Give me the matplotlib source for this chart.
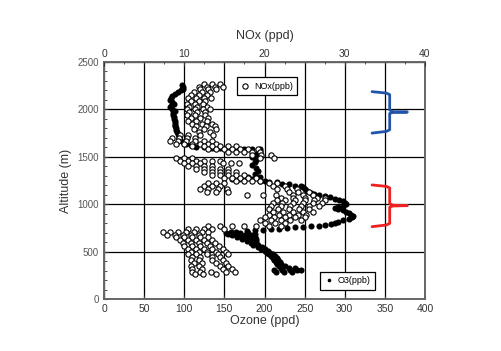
import matplotlib
matplotlib.use("Agg")
import matplotlib.pyplot as plt

plt.rcParams['font.family'] = ['Liberation Sans', 'DejaVu Sans']

# NOx profile (ppb), rows of readings per altitude level (m)
nox_levels = [2270, 2240, 2210, 2180, 2150, 2120, 2090, 2060, 2030, 2000,
              1970, 1940, 1910, 1880, 1850, 1820, 1790, 1760, 1730, 1700,
              1670, 1640, 1610, 1580, 1550, 1520, 1490, 1460, 1430, 1400,
              1370, 1340, 1310, 1280, 1250, 1220, 1190, 1160, 1130, 1100,
              1070, 1040, 1010, 980, 950, 920, 890, 860, 830, 800,
              770, 740, 710, 680, 650, 620, 590, 560, 530, 500,
              470, 440, 410, 380, 350, 320, 290, 260]
nox_values = [
    [12.5, 13.5, 14.5], [11.8, 12.8, 13.8, 14.8], [12.0, 13.0, 14.0],
    [11.2, 12.2, 13.2], [10.8, 11.8, 12.8], [10.5, 11.5, 12.5, 13.3],
    [10.8, 11.8, 12.6], [10.3, 11.3, 12.3], [10.6, 11.6, 12.8],
    [10.3, 11.3, 12.3, 13.2], [10.6, 11.6, 12.6], [10.3, 11.3, 12.6],
    [10.8, 12.0, 13.0], [10.5, 11.5, 12.8], [11.0, 12.2, 13.4],
    [11.5, 12.7, 13.8], [11.2, 12.5, 14.0], [11.8, 13.2],
    [9.5, 10.5, 12.0, 13.6], [8.5, 9.4, 10.4, 11.4],
    [8.2, 9.2, 10.2, 11.3, 12.4, 13.5], [9.0, 10.0, 11.0, 12.0, 13.0, 14.0],
    [11.0, 12.5, 13.5, 14.5, 15.5, 16.5],
    [13.0, 14.0, 15.0, 16.0, 17.0, 18.0, 19.2],
    [15.5, 16.5, 17.5, 18.5, 19.5], [18.5, 19.6, 20.8],
    [9.0, 10.0, 11.0, 19.5, 21.2], [9.5, 10.5, 11.5, 12.5, 13.5, 14.5],
    [10.0, 11.0, 12.0, 14.8, 15.8, 16.8], [10.5, 11.5, 12.5, 13.5],
    [11.5, 12.5, 13.5, 14.5, 15.5], [12.5, 13.5, 14.5, 15.5, 16.5],
    [13.5, 14.5, 15.5, 16.5, 17.5], [15.0, 16.0, 17.0, 18.0, 19.0],
    [16.5, 17.5, 18.5, 19.5], [13.0, 14.0, 15.0, 20.5, 21.5],
    [12.5, 13.5, 14.5, 21.0, 22.5], [12.0, 13.0, 14.2, 15.3, 21.5, 22.8, 24.0],
    [12.8, 14.0, 15.5, 23.0, 24.2, 25.5], [17.8, 19.8, 21.4, 23.5, 24.8, 26.0],
    [22.0, 23.5, 25.0, 26.5, 27.5], [21.5, 22.5, 23.8, 25.0, 26.2, 27.5],
    [21.0, 22.2, 23.5, 24.8, 26.0, 27.2], [20.8, 22.0, 23.2, 24.5, 25.6, 26.8],
    [20.5, 21.7, 23.0, 24.3, 25.5], [21.0, 22.3, 23.6, 24.8, 26.0],
    [20.5, 21.8, 23.0, 24.2, 25.2], [20.0, 21.2, 22.5, 23.8, 25.0],
    [19.5, 20.8, 22.0, 23.2, 24.5], [20.0, 21.3, 22.6],
    [13.0, 14.5, 16.0, 17.5, 19.0, 20.5, 22.0], [10.5, 11.5, 12.5, 13.5, 15.0],
    [7.3, 8.2, 9.2, 10.2, 11.2, 12.2, 13.0], [7.8, 8.8, 9.8, 10.8, 11.8],
    [9.0, 10.0, 11.0, 12.0, 13.0], [9.5, 10.5, 11.5, 12.5, 13.5],
    [9.8, 10.8, 11.8, 12.8, 13.8], [10.0, 11.0, 12.0, 13.2, 14.3],
    [10.5, 11.5, 12.5, 13.5, 14.8], [10.8, 11.8, 12.8, 14.0, 15.2],
    [10.5, 11.5, 12.8, 14.2, 15.5], [11.0, 12.0, 13.5, 14.5],
    [10.8, 11.8, 13.5, 14.8], [11.2, 12.2, 14.0, 15.2],
    [10.8, 11.8, 14.5, 15.5], [11.0, 12.2, 14.8, 16.0],
    [11.0, 12.0, 13.3, 15.2, 16.3], [11.3, 12.3, 14.0],
]

# Ozone profile (ppb), rows of readings per altitude level (m)
o3_levels = [2260, 2240, 2220, 2200, 2180, 2160, 2140, 2120, 2100, 2080,
             2060, 2040, 2020, 2000, 1980, 1960, 1940, 1920, 1900, 1880,
             1860, 1840, 1820, 1800, 1780, 1760, 1740, 1720, 1700, 1680,
             1660, 1640, 1620, 1600, 1590, 1580, 1560, 1530, 1500, 1470,
             1440, 1410, 1380, 1350, 1320, 1290, 1270, 1250, 1230, 1210,
             1195, 1180, 1160, 1140, 1120, 1110, 1100, 1090, 1075, 1060,
             1045, 1030, 1015, 1000, 985, 970, 960, 950, 935, 920,
             905, 890, 875, 860, 845, 830, 815, 800, 790, 780,
             770, 760, 750, 740, 730, 720, 710, 700, 690, 670,
             650, 630, 610, 590, 570, 550, 530, 510, 490, 470,
             450, 430, 410, 390, 370, 350, 330, 310, 290]
o3_values = [
    [97], [98], [98], [96], [92], [88], [85], [83], [82], [85],
    [87], [84], [82], [85], [88], [86], [86], [87], [87], [88],
    [88], [89], [89], [90], [90], [91], [92], [93], [93], [95],
    [98], [102], [108], [115, 125], [135, 145, 155], [165, 175, 185, 195],
    [195], [190], [185, 195], [190],
    [188], [185], [190], [192], [188], [180, 190, 195], [160, 168, 175, 185],
    [195, 200], [205, 215], [222, 230],
    [238, 245], [248], [250], [253], [258], [262], [268], [275], [282], [288],
    [293], [298], [300], [301], [298], [292], [288], [292], [298], [302],
    [305], [308], [310], [309], [305], [298], [292], [288], [283], [276],
    [268, 258], [248, 238], [228], [218, 208], [198, 188], [178], [165, 158],
    [152, 160, 170, 180], [155, 162, 170, 178, 188], [160, 168, 176, 184],
    [166, 172, 180, 188], [172, 178, 184, 190], [178, 184, 190], [183, 189],
    [186, 192], [192, 197], [196, 201], [200, 204], [203, 207], [206, 210],
    [208, 213], [210, 215], [212, 217], [214, 219], [216, 221], [218, 225],
    [220, 230, 238], [212, 222, 232, 240, 246], [214, 224, 234],
]

nox_alt = [a for a, row in zip(nox_levels, nox_values) for _ in row]
nox_ppb = [v for row in nox_values for v in row]
o3_alt = [a for a, row in zip(o3_levels, o3_values) for _ in row]
o3_ppb = [v for row in o3_values for v in row]

text_col = '#333333'

fig = plt.figure(figsize=(5.01, 3.51), dpi=100)
ax = fig.add_axes([0.2076, 0.1481, 0.6407, 0.6753])
ax.set_xlim(0, 400)
ax.set_ylim(0, 2500)
ax.set_xticks(range(0, 401, 50))
ax.set_yticks(range(0, 2501, 500))
ax.set_yticks(range(0, 2501, 100), minor=True)
ax.grid(True, which='major', color='black', lw=0.9)
ax.tick_params(which='both', direction='in', colors=text_col, labelsize=7.5)
ax.tick_params(which='major', length=3)
ax.tick_params(which='minor', length=2)
ax.tick_params(axis='y', labelcolor='#555555', labelsize=7)
for s in ax.spines.values():
    s.set_color('#666666')
    s.set_linewidth(1.4)
ax.set_xlabel('Ozone (ppd)', fontsize=9, color=text_col, labelpad=1)
ax.set_ylabel('Altitude (m)', fontsize=9, color=text_col, labelpad=4)

o3_line, = ax.plot(o3_ppb, o3_alt, 'o', color='black', ms=4.4, mew=0,
                   label='O3(ppb)')

ax2 = ax.twiny()
ax2.set_xlim(0, 40)
ax2.set_xticks(range(0, 41, 10))
ax2.set_xticks([x * 2.5 for x in range(17)], minor=True)
ax2.tick_params(which='both', direction='in', colors=text_col, labelsize=7.5)
ax2.tick_params(which='major', length=3, pad=2)
ax2.tick_params(which='minor', length=1.5)
ax2.set_xlabel('NOx (ppd)', fontsize=9, color=text_col, labelpad=7)
for s in ax2.spines.values():
    s.set_visible(False)

nox_line, = ax2.plot(nox_ppb, nox_alt, 'o', mfc='white', mec='black',
                     ms=3.8, mew=0.8, label='NOx(ppb)')

leg1 = ax2.legend(handles=[nox_line], loc='upper left',
                  bbox_to_anchor=(0.40, 0.955), fontsize=6.5, fancybox=False,
                  edgecolor='black', framealpha=1, handlelength=0.8,
                  handletextpad=0.6, borderpad=0.5)
leg1.get_frame().set_linewidth(0.9)
leg2 = ax.legend(handles=[o3_line], loc='lower left',
                 bbox_to_anchor=(0.66, 0.02), fontsize=6.5, fancybox=False,
                 edgecolor='black', framealpha=1, handlelength=0.8,
                 handletextpad=0.6, borderpad=0.5, markerscale=0.6)
leg2.get_frame().set_linewidth(0.9)
leg2.set_zorder(5)


def brace(top, tip, bot, color):
    xs = [334, 352, 356, 356, 360, 378, 360, 356, 356, 352, 334]
    ys = [top, top - 15, top - 32, tip + 22, tip + 4, tip, tip - 4,
          tip - 15, bot + 35, bot + 18, bot]
    ax.plot(xs, ys, color=color, lw=2, clip_on=False, zorder=6,
            solid_joinstyle='round', solid_capstyle='round')


brace(2187, 1972, 1750, '#2255aa')
brace(1203, 985, 763, '#ee2222')

fig.savefig('out.png', dpi=100)
